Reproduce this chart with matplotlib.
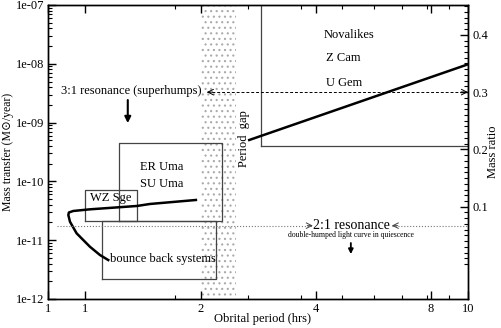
import matplotlib
matplotlib.use('Agg')
import matplotlib.pyplot as plt
import numpy as np
from matplotlib.ticker import LogLocator, NullFormatter

plt.rcParams['font.family'] = ['Liberation Serif', 'DejaVu Serif']
plt.rcParams['hatch.linewidth'] = 0.8

# -------------------------------------------------------------------------------------------------------------------- #
# Data (period in hrs, mass transfer in Msun/yr, q = mass ratio)

# evolutionary track near the period minimum
track_P = [1.944, 1.474, 1.363, 1.027, 0.929, 0.905, 0.902, 0.911, 0.948, 1.027, 1.091, 1.147]
track_Mdot = [4.83e-11, 4.13e-11, 3.82e-11, 3.35e-11, 3.14e-11, 2.96e-11, 2.68e-11,
              2.06e-11, 1.31e-11, 7.75e-12, 5.6e-12, 4.6e-12]

# track above the gap
long_P = [2.68, 10.0]
long_Mdot = [5.06e-10, 9.8e-9]

# class boxes
box_names = ['Novalikes', 'ER Uma', 'WZ Sge', 'bounce back']
box_p_lo = [2.87, 1.223, 1.0, 1.102]
box_p_hi = [10.0, 2.274, 1.366, 2.2]
box_m_lo = [4.0e-10, 2.12e-11, 2.12e-11, 2.2e-12]
box_m_hi = [2.0e-7, 4.5e-10, 7.2e-11, 2.12e-11]

# period gap
gap_lo, gap_hi = 2.0, 2.48

# resonances (mass ratio)
q_31 = 0.3
q_21 = 0.067

x_ticks = [0.8, 1, 2, 4, 8, 10]
x_ticklabels = ['1', '1', '2', '4', '8', '10']
x_minor = [1.71, 2.66, 3.67, 4.67, 5.69, 6.74, 7.8, 8.94]
y_ticks = [1e-12, 1e-11, 1e-10, 1e-9, 1e-8, 1e-7]
y_ticklabels = ['1e-12', '1e-11', '1e-10', '1e-09', '1e-08', '1e-07']
q_ticks = [0.1, 0.2, 0.3, 0.4]

# -------------------------------------------------------------------------------------------------------------------- #

fig = plt.figure(figsize=(5.01, 3.28), dpi=100)
ax = fig.add_axes([48.4 / 501, 29 / 328, 419.6 / 501, 294 / 328])
ax.set_xscale('log')
ax.set_yscale('log')
ax.set_xlim(0.8, 10)
ax.set_ylim(1e-12, 1e-7)

ax2 = ax.twinx()
ax2.set_ylim(-0.061, 0.452)

# Period gap shading
ax.axvspan(gap_lo, gap_hi, facecolor='none', edgecolor='#aaaaaa', hatch='...', lw=0, zorder=0)
ax.text(2.6, 5.26e-10, 'Period  gap', rotation=90, ha='center', va='center', fontsize=9)

# Boxes
for x0, x1, y0, y1 in zip(box_p_lo, box_p_hi, box_m_lo, box_m_hi):
    ax.plot([x0, x1, x1, x0, x0], [y0, y0, y1, y1, y0], color='#444444', lw=0.9)

# Tracks
ax.plot(track_P, track_Mdot, color='k', lw=1.8, solid_joinstyle='round')
ax.plot(long_P, long_Mdot, color='k', lw=1.8)

# Labels for classes
ax.text(4.2, 3.1e-8, 'Novalikes', fontsize=9, va='center')
ax.text(4.25, 1.26e-8, 'Z Cam', fontsize=9, va='center')
ax.text(4.25, 4.7e-9, 'U Gem', fontsize=9, va='center')
ax.text(1.58, 1.76e-10, 'ER Uma', fontsize=9, ha='center', va='center')
ax.text(1.58, 9.0e-11, 'SU Uma', fontsize=9, ha='center', va='center')
ax.text(1.027, 5.28e-11, 'WZ Sge', fontsize=9, va='center')
ax.text(1.159, 4.73e-12, 'bounce back systems', fontsize=9, va='center')

# 3:1 resonance
ax.text(2.015, 3.49e-9, '3:1 resonance (superhumps)', fontsize=9, ha='right', va='center')
ax2.plot([2.076, 10], [q_31, q_31], ls='--', color='k', lw=0.7, dashes=(3, 2))
ax2.annotate('', xy=(2.076, q_31), xytext=(2.15, q_31),
             arrowprops=dict(arrowstyle='->', lw=0.7, color='k', shrinkA=0, shrinkB=0))
ax2.annotate('', xy=(10, q_31), xytext=(9.6, q_31),
             arrowprops=dict(arrowstyle='->', lw=0.7, color='k', shrinkA=0, shrinkB=0))
ax.annotate('', xy=(1.29, 9.8e-10), xytext=(1.29, 2.42e-9),
            arrowprops=dict(arrowstyle='-|>', lw=1.5, color='k', mutation_scale=9,
                            shrinkA=0, shrinkB=0))

# 2:1 resonance
ax2.plot([0.842, 3.93], [q_21, q_21], ls=':', color='#777777', lw=0.8)
ax2.plot([6.32, 10], [q_21, q_21], ls=':', color='#777777', lw=0.8)
ax2.annotate('', xy=(3.93, q_21), xytext=(3.8, q_21),
             arrowprops=dict(arrowstyle='->', lw=0.7, color='#444444', shrinkA=0, shrinkB=0))
ax2.annotate('', xy=(6.32, q_21), xytext=(6.55, q_21),
             arrowprops=dict(arrowstyle='->', lw=0.7, color='#444444', shrinkA=0, shrinkB=0))
ax2.text(4.97, q_21, '2:1 resonance', fontsize=10, ha='center', va='center')
ax.text(4.94, 1.22e-11, 'double-humped light curve in quiescence', fontsize=5.5,
        ha='center', va='center')
ax.annotate('', xy=(4.94, 5.8e-12), xytext=(4.94, 8.96e-12),
            arrowprops=dict(arrowstyle='-|>', lw=1.3, color='k', mutation_scale=7,
                            shrinkA=0, shrinkB=0))

# Axes, ticks
ax.set_xticks(x_ticks)
ax.set_xticklabels(x_ticklabels)
ax.set_xticks(x_minor, minor=True)
ax.xaxis.set_minor_formatter(NullFormatter())
ax.set_yticks(y_ticks)
ax.set_yticklabels(y_ticklabels)
ax.yaxis.set_minor_locator(LogLocator(base=10, subs=np.arange(2, 10)))
ax.yaxis.set_minor_formatter(NullFormatter())
ax.tick_params(which='both', direction='in', top=True, right=False, labelsize=9, pad=3)
ax.tick_params(which='major', length=6, width=1)
ax.tick_params(which='minor', length=3, width=0.8)

ax2.set_yticks(q_ticks)
ax2.set_yticks(np.arange(0, 0.455, 0.01), minor=True)
ax2.tick_params(which='both', direction='in', labelsize=9, pad=3)
ax2.tick_params(which='major', length=6, width=1)
ax2.tick_params(which='minor', length=3, width=0.8)

for a in (ax, ax2):
    for s in a.spines.values():
        s.set_linewidth(1.0)

ax.set_xlabel('Obrital period (hrs)', fontsize=9)
ax.xaxis.set_label_coords(0.51, -0.048)
ax.set_ylabel('Mass transfer (M\u2299/year)', fontsize=8.5)
ax.yaxis.set_label_coords(-0.083, 0.5)
ax2.set_ylabel('Mass ratio', fontsize=9)
ax2.yaxis.set_label_coords(1.046, 0.5)

fig.savefig('out.png', dpi=100)
